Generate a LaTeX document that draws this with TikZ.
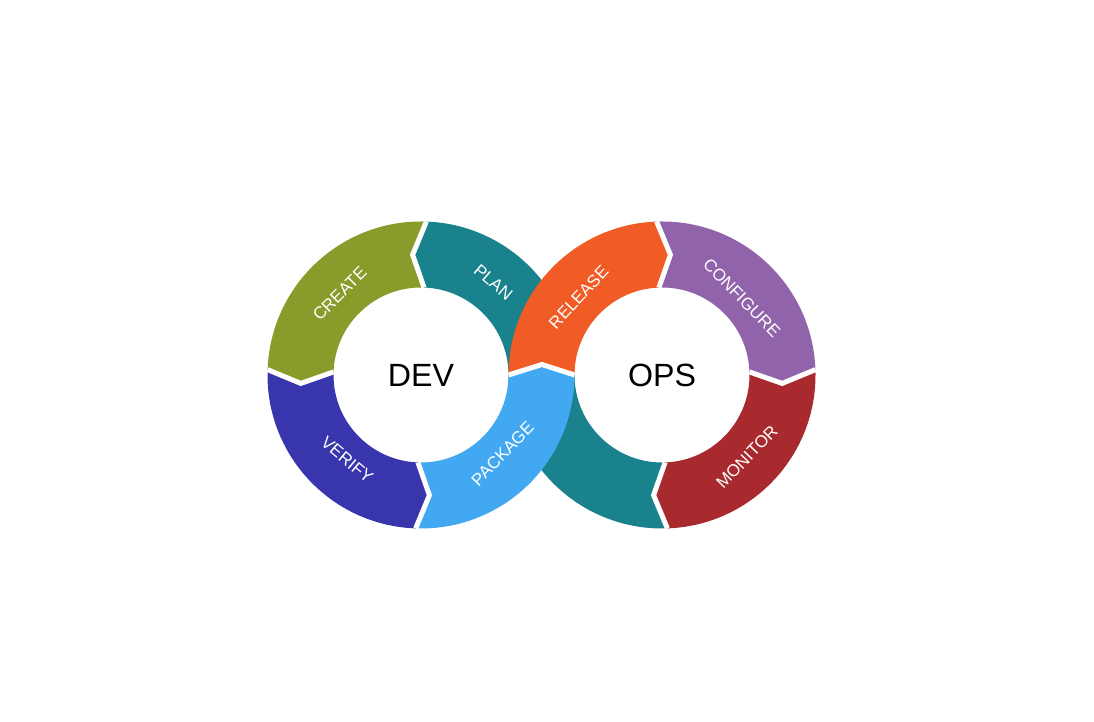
\documentclass[tikz,border=0pt]{standalone}
\usepackage{fontspec}
\setmainfont{Liberation Sans}
\usetikzlibrary{calc}
\definecolor{cCreate}{HTML}{899B2A}
\definecolor{cPlan}{HTML}{1A828C}
\definecolor{cVerify}{HTML}{3935AD}
\definecolor{cPackage}{HTML}{42A8F2}
\definecolor{cRelease}{HTML}{F15B25}
\definecolor{cConfig}{HTML}{9163AA}
\definecolor{cMonitor}{HTML}{A82A2E}
\tikzset{
  cutline/.style={white, line width=0.1cm, line join=miter},
  lbl/.style={text=white, font=\fontsize{9.7}{11}\selectfont, inner sep=0pt},
  hub/.style={font=\fontsize{18.3}{22}\selectfont}
}
\begin{document}
\begin{tikzpicture}
\useasboundingbox (0,0) rectangle (21.88,14.44);
\coordinate (dev) at (8.42,6.94);
\coordinate (ops) at (13.24,6.94);

% Plan band, passes under the crossing
\fill[cPlan] ($(ops)+(-88:3.07)$) arc[start angle=-88, end angle=-180, radius=3.07]
  arc[start angle=0, end angle=88, radius=1.75] -- ($(dev)+(94:2.41)$) -- ($(dev)+(88:3.07)$)
  arc[start angle=88, end angle=0, radius=3.07]
  arc[start angle=180, end angle=272, radius=1.75] -- ($(ops)+(-94:2.41)$) -- cycle;

% Dev ring
\begin{scope}[shift={(dev)}]
\fill[cCreate] (88:3.07) arc[start angle=88, end angle=178, radius=3.07] -- (184:2.41) -- (178:1.75) arc[start angle=178, end angle=88, radius=1.75] -- (94:2.41) -- cycle;
\fill[cVerify] (178:3.07) arc[start angle=178, end angle=268, radius=3.07] -- (274:2.41) -- (268:1.75) arc[start angle=268, end angle=178, radius=1.75] -- (184:2.41) -- cycle;
\fill[cPackage] (268:3.07) arc[start angle=268, end angle=360, radius=3.07] -- (365:2.41) -- (360:1.75) arc[start angle=360, end angle=268, radius=1.75] -- (274:2.41) -- cycle;
\foreach \a in {88,178,268}
  \draw[cutline] (\a:3.07) -- ({\a+6}:2.41) -- (\a:1.75);
\end{scope}

% Ops ring
\begin{scope}[shift={(ops)}]
\fill[cRelease] (180:3.07) arc[start angle=180, end angle=92, radius=3.07] -- (86:2.41) -- (92:1.75) arc[start angle=92, end angle=180, radius=1.75] -- (175:2.41) -- cycle;
\fill[cConfig] (92:3.07) arc[start angle=92, end angle=2, radius=3.07] -- (-4:2.41) -- (2:1.75) arc[start angle=2, end angle=92, radius=1.75] -- (86:2.41) -- cycle;
\fill[cMonitor] (2:3.07) arc[start angle=2, end angle=-88, radius=3.07] -- (-94:2.41) -- (-88:1.75) arc[start angle=-88, end angle=2, radius=1.75] -- (-4:2.41) -- cycle;
\foreach \a in {92,2,-88}
  \draw[cutline] (\a:3.07) -- ({\a-6}:2.41) -- (\a:1.75);
\draw[cutline] (180:1.75) -- (175:2.41) -- (180:3.07); % crossing
\end{scope}

% Labels
\node[lbl, rotate=45] (create) at ($(dev)+(135:2.3)$) {CREATE};
\node[lbl, rotate=-40] (plan) at ($(dev)+(52:2.35)$) {PLAN};
\node[lbl, rotate=-40] (verify) at ($(dev)+(229:2.25)$) {VERIFY};
\node[lbl, rotate=46] (package) at ($(dev)+(-44:2.27)$) {PACKAGE};
\node[lbl, rotate=47] (release) at ($(ops)+(137:2.28)$) {RELEASE};
\node[lbl, rotate=-46] (configure) at ($(ops)+(44:2.22)$) {CONFIGURE};
\node[lbl, rotate=46] (monitor) at ($(ops)+(-44:2.36)$) {MONITOR};
\node[hub] (devtxt) at (dev) {DEV};
\node[hub] (opstxt) at (ops) {OPS};
\end{tikzpicture}
\end{document}
